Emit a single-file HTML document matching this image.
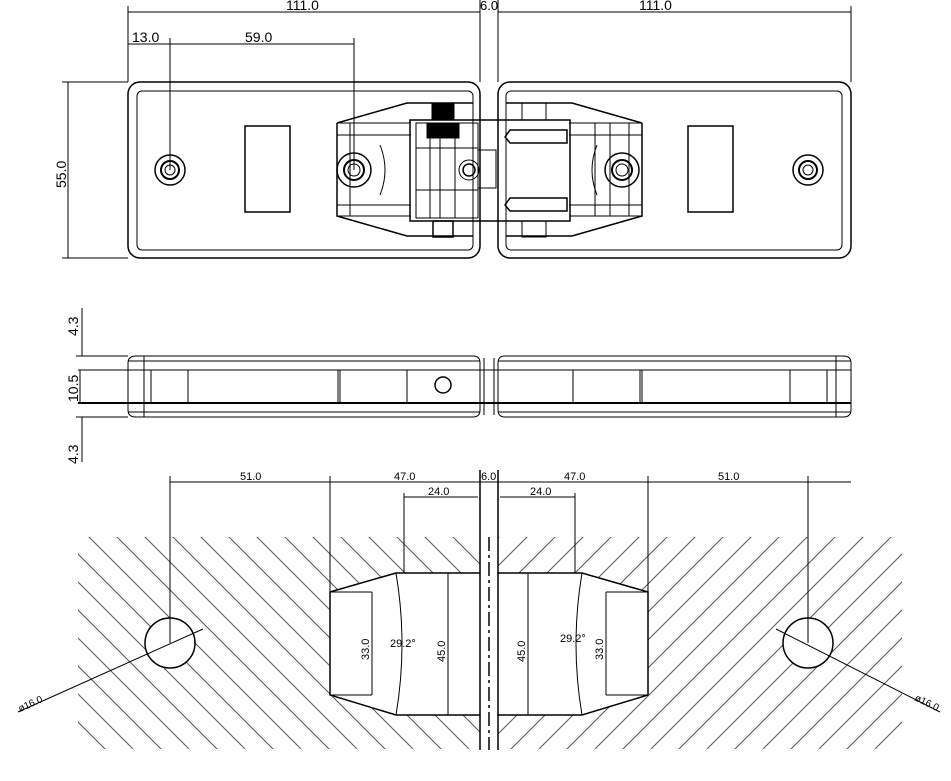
<!DOCTYPE html>
<html><head><meta charset="utf-8"><style>
html,body{margin:0;padding:0;background:#fff}
svg{display:block}
text{font-family:"Liberation Sans",sans-serif;fill:#000}
</style></head><body>
<svg width="951" height="781" viewBox="0 0 951 781" xmlns="http://www.w3.org/2000/svg">
<defs>
<pattern id="hl" patternUnits="userSpaceOnUse" width="28" height="28"><line x1="0" y1="0" x2="28" y2="28" stroke="#555" stroke-width="1"/><line x1="-2" y1="26" x2="2" y2="30" stroke="#555"/><line x1="26" y1="-2" x2="30" y2="2" stroke="#555"/></pattern>
<pattern id="hr" patternUnits="userSpaceOnUse" width="28" height="28"><line x1="0" y1="28" x2="28" y2="0" stroke="#555" stroke-width="1"/><line x1="-2" y1="2" x2="2" y2="-2" stroke="#555"/><line x1="26" y1="30" x2="30" y2="26" stroke="#555"/></pattern>
</defs>
<g fill="none" stroke="#000" stroke-width="1">
<line x1="128" y1="12" x2="480" y2="12"/><line x1="498" y1="12" x2="851" y2="12"/>
<line x1="128" y1="6" x2="128" y2="82"/><line x1="851" y1="6" x2="851" y2="82"/>
<line x1="480" y1="0" x2="480" y2="82"/><line x1="498" y1="0" x2="498" y2="82"/>
<line x1="128" y1="44" x2="354" y2="44"/>
<line x1="170" y1="38" x2="170" y2="170"/><line x1="354" y1="38" x2="354" y2="170"/>
<line x1="68" y1="82" x2="68" y2="258"/>
<line x1="62" y1="82" x2="128" y2="82"/><line x1="62" y1="258" x2="128" y2="258"/>
<rect x="128" y="82" width="352" height="176" rx="12" stroke-width="1.5"/>
<rect x="137" y="91" width="336" height="159" rx="5"/>
<rect x="498" y="82" width="353" height="176" rx="12" stroke-width="1.5"/>
<rect x="506" y="91" width="336" height="159" rx="5"/>
<rect x="245" y="126" width="45" height="86" stroke-width="1.5"/>
<rect x="688" y="126" width="45" height="86" stroke-width="1.5"/>
<circle cx="170" cy="170" r="15" stroke-width="1.5"/><circle cx="170" cy="170" r="9" stroke-width="2"/><circle cx="170" cy="170" r="5"/>
<circle cx="808" cy="170" r="15" stroke-width="1.5"/><circle cx="808" cy="170" r="9" stroke-width="2"/><circle cx="808" cy="170" r="5"/>
<path d="M337 123 L407 103 L473 103 M337 123 L337 216 L407 236 L473 236" stroke-width="1.5"/>
<path d="M642 123 L572 103 L506 103 M642 123 L642 216 L572 236 L506 236" stroke-width="1.5"/>
<line x1="337" y1="123" x2="411" y2="123"/><line x1="337" y1="216" x2="411" y2="216"/>
<line x1="569" y1="123" x2="642" y2="123"/><line x1="569" y1="216" x2="642" y2="216"/>
<line x1="350" y1="123" x2="350" y2="216"/><line x1="629" y1="123" x2="629" y2="216"/>
<line x1="337" y1="135" x2="411" y2="135"/><line x1="337" y1="205" x2="411" y2="205"/>
<line x1="569" y1="135" x2="642" y2="135"/><line x1="569" y1="205" x2="642" y2="205"/>
<rect x="410" y="120" width="160" height="101" stroke-width="1.5"/>
<rect x="416" y="123" width="62" height="95"/>
<rect x="478" y="150" width="18" height="38"/>
<line x1="430" y1="123" x2="430" y2="218"/><line x1="440" y1="123" x2="440" y2="218"/><line x1="455" y1="123" x2="455" y2="218"/>
<line x1="416" y1="148" x2="478" y2="148"/><line x1="416" y1="190" x2="478" y2="190"/>
<rect x="432" y="103" width="22" height="17" fill="#000"/>
<rect x="427" y="123" width="32" height="15" fill="#000"/>
<rect x="433" y="221" width="20" height="16" stroke-width="1.5"/>
<rect x="522" y="103" width="24" height="17"/><rect x="522" y="221" width="24" height="16"/>
<circle cx="469" cy="170" r="10"/><circle cx="469" cy="170" r="6" stroke-width="1.5"/>
<path d="M510 130 L567 130 L567 143 L510 143 L505 137 Z" stroke-width="1.5"/>
<path d="M510 198 L567 198 L567 211 L510 211 L505 205 Z" stroke-width="1.5"/>
<circle cx="354" cy="170" r="17" stroke-width="1.5"/><circle cx="354" cy="170" r="10" stroke-width="2"/><circle cx="354" cy="170" r="6"/>
<circle cx="622" cy="170" r="17" stroke-width="1.5"/><circle cx="622" cy="170" r="10" stroke-width="2"/><circle cx="622" cy="170" r="6"/>
<path d="M380 145 Q390 170 380 195"/><path d="M597 145 Q587 170 597 195"/>
<rect x="595" y="123" width="15" height="93"/>
<line x1="82" y1="308" x2="82" y2="356"/><line x1="80" y1="370" x2="80" y2="403"/><line x1="82" y1="417" x2="82" y2="462"/>
<line x1="76" y1="356" x2="128" y2="356"/><line x1="76" y1="417" x2="128" y2="417"/>
<line x1="78" y1="370" x2="128" y2="370"/><line x1="78" y1="403" x2="128" y2="403" stroke-width="2"/>
<path d="M136 356 H473 Q480 356 480 363 V410 Q480 417 473 417 H136 Q128 417 128 410 V363 Q128 356 136 356 Z"/>
<path d="M505 356 H843 Q851 356 851 363 V410 Q851 417 843 417 H505 Q498 417 498 410 V363 Q498 356 505 356 Z"/>
<line x1="128" y1="370" x2="851" y2="370"/><line x1="128" y1="403" x2="851" y2="403" stroke-width="2"/>
<line x1="128" y1="361" x2="480" y2="361"/><line x1="128" y1="412" x2="480" y2="412"/>
<line x1="498" y1="361" x2="851" y2="361"/><line x1="498" y1="412" x2="851" y2="412"/>
<line x1="144" y1="356" x2="144" y2="417"/><line x1="836" y1="356" x2="836" y2="417"/>
<line x1="151" y1="370" x2="151" y2="403"/><line x1="188" y1="370" x2="188" y2="403"/>
<line x1="338" y1="370" x2="338" y2="403"/><line x1="340" y1="370" x2="340" y2="403"/><line x1="407" y1="370" x2="407" y2="403"/>
<line x1="573" y1="370" x2="573" y2="403"/><line x1="640" y1="370" x2="640" y2="403"/><line x1="642" y1="370" x2="642" y2="403"/>
<line x1="790" y1="370" x2="790" y2="403"/><line x1="827" y1="370" x2="827" y2="403"/>
<circle cx="443" cy="385" r="8" stroke-width="1.5"/>
<line x1="484" y1="358" x2="484" y2="415"/><line x1="494" y1="358" x2="494" y2="415"/>
</g>
<rect x="78" y="537" width="402" height="212" fill="url(#hl)"/>
<rect x="498" y="537" width="404" height="212" fill="url(#hr)"/>
<g fill="#fff" stroke="#000" stroke-width="1.5">
<path d="M480 573 L396 573 L330 592 L330 695 L396 715 L480 715 Z"/>
<path d="M498 573 L582 573 L648 592 L648 695 L582 715 L498 715 Z"/>
<circle cx="170" cy="643" r="25"/><circle cx="808" cy="643" r="25"/>
</g>
<rect x="481" y="530" width="16" height="220" fill="#fff"/>
<g fill="none" stroke="#000" stroke-width="1">
<line x1="480" y1="470" x2="480" y2="573" stroke-width="1.5"/><line x1="480" y1="715" x2="480" y2="750" stroke-width="1.5"/>
<line x1="498" y1="470" x2="498" y2="573" stroke-width="1.5"/><line x1="498" y1="715" x2="498" y2="750" stroke-width="1.5"/>
<line x1="489" y1="537" x2="489" y2="750" stroke-dasharray="14,4,3,4" stroke-width="1.5"/>
<line x1="170" y1="482" x2="851" y2="482"/>
<line x1="170" y1="476" x2="170" y2="643"/><line x1="808" y1="476" x2="808" y2="643"/>
<line x1="330" y1="476" x2="330" y2="592"/><line x1="648" y1="476" x2="648" y2="592"/>
<line x1="404" y1="497" x2="478" y2="497"/><line x1="500" y1="497" x2="575" y2="497"/>
<line x1="404" y1="493" x2="404" y2="573"/><line x1="575" y1="493" x2="575" y2="573"/>
<line x1="330" y1="592" x2="372" y2="592"/><line x1="330" y1="695" x2="372" y2="695"/>
<line x1="648" y1="592" x2="606" y2="592"/><line x1="648" y1="695" x2="606" y2="695"/>
<line x1="372" y1="592" x2="372" y2="695"/><line x1="606" y1="592" x2="606" y2="695"/>
<line x1="448" y1="573" x2="448" y2="715"/><line x1="528" y1="573" x2="528" y2="715"/>
<path d="M396 573 Q408 644 396 715"/><path d="M582 573 Q570 644 582 715"/>
<line x1="18" y1="712" x2="203" y2="629"/><line x1="776" y1="629" x2="940" y2="712"/>
</g>
<g font-size="14">
<text x="286" y="10">111.0</text><text x="639" y="10">111.0</text>
<text x="480" y="10" font-size="13">6.0</text>
<text x="132" y="42">13.0</text><text x="245" y="42">59.0</text>
<text transform="translate(66,188) rotate(-90)">55.0</text>
<text transform="translate(78,336) rotate(-90)">4.3</text>
<text transform="translate(78,402) rotate(-90)">10.5</text>
<text transform="translate(78,464) rotate(-90)">4.3</text>
</g>
<g font-size="11">
<text x="240" y="480">51.0</text><text x="394" y="480">47.0</text><text x="481" y="480">6.0</text>
<text x="564" y="480">47.0</text><text x="718" y="480">51.0</text>
<text x="428" y="495">24.0</text><text x="530" y="495">24.0</text>
<text x="390" y="647">29.2°</text><text x="560" y="642">29.2°</text>
<text transform="translate(369,660) rotate(-90)">33.0</text>
<text transform="translate(445,662) rotate(-90)">45.0</text>
<text transform="translate(525,662) rotate(-90)">45.0</text>
<text transform="translate(603,660) rotate(-90)">33.0</text>
<text transform="translate(20,712) rotate(-24)" font-size="10">ø16.0</text>
<text transform="translate(914,700) rotate(26)" font-size="10">ø16.0</text>
</g>
</svg>
</body></html>
